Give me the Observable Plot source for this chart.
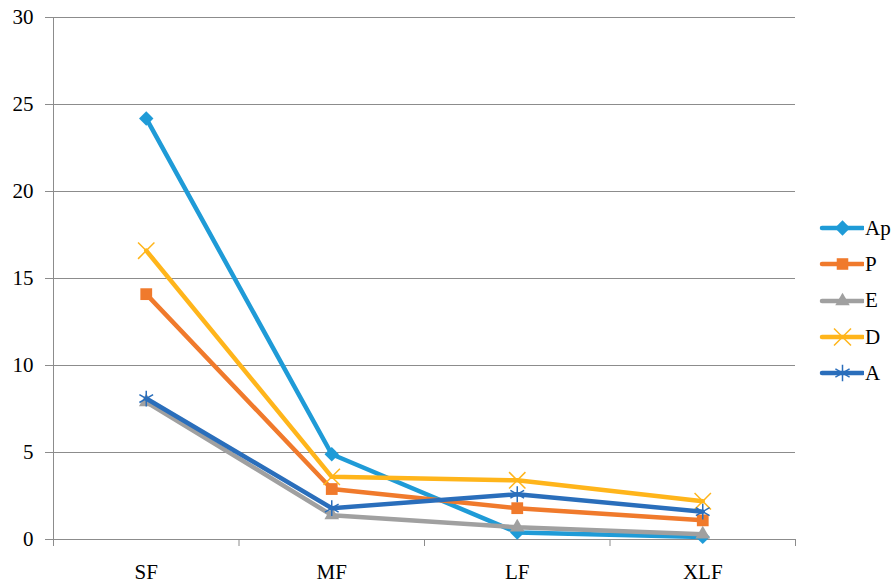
<!DOCTYPE html>
<html><head><meta charset="utf-8">
<script src="https://cdn.jsdelivr.net/npm/d3@7"></script>
<script src="https://cdn.jsdelivr.net/npm/@observablehq/plot@0.6"></script>
<style>
body{margin:0;background:#fff;font-family:"Liberation Serif",serif;}
#wrap{position:relative;width:895px;height:585px;}
#legend{position:absolute;left:818px;top:210px;}
.item{display:flex;align-items:center;height:36.3px;font-size:21px;color:#000;font-family:"Liberation Serif",serif;}
.item svg{margin-right:1px;}
</style></head><body>
<div id="wrap"><div id="chart"></div><div id="legend"></div></div>
<script>
const categories = ["SF","MF","LF","XLF"];
const seriesNames = ["Ap","P","E","D","A"];
const Ap = [24.2, 4.9, 0.4, 0.15];
const P  = [14.1, 2.9, 1.8, 1.1];
const E  = [7.9, 1.4, 0.7, 0.3];
const D  = [16.6, 3.6, 3.4, 2.2];
const A  = [8.1, 1.8, 2.6, 1.6];
const colors = ["#1f9bd7","#f07a2c","#a0a0a0","#ffb51b","#2a6ebb"];
const symbols = ["diamond2","square2","triangle2","times","asterisk"];
const yTicks = [0,5,10,15,20,25,30];

const values = [Ap,P,E,D,A];
const rows = [];
seriesNames.forEach((s,si)=>values[si].forEach((v,ci)=>rows.push({series:s, cat:categories[ci], x:ci+0.5, y:v})));
const drawOrder = ["Ap","P","E","D","A"];
const filled = new Set(["Ap","P","E"]);
const dotR = {Ap:6.5, P:7.5, E:7, D:7.5, A:7.5};

const marks = [
  Plot.gridY(yTicks,{stroke:"#8c8c8c",strokeOpacity:1,strokeWidth:1}),
  Plot.axisY({ticks:yTicks, tickSize:8, tickPadding:12, label:null}),
  Plot.ruleX([0],{stroke:"#8c8c8c"}),
  Plot.ruleY([0],{stroke:"#8c8c8c"}),
  Plot.axisX({ticks:[0,1,2,3,4], tickSize:7, tickFormat:()=>"", label:null}),
  Plot.axisX({ticks:categories.map((c,i)=>i+0.5), tickSize:0, tickPadding:25, tickFormat:(d)=>categories[Math.floor(d)], label:null})
];
drawOrder.forEach(s=>{
  const si = seriesNames.indexOf(s);
  const d = rows.filter(r=>r.series===s);
  marks.push(Plot.line(d,{x:"x",y:"y",stroke:colors[si],strokeWidth:4.5}));
  if (filled.has(s)) {
    marks.push(Plot.dot(d,{x:"x",y:"y",symbol:()=>symbols[si],fill:colors[si],stroke:"none",r:dotR[s]}));
  } else {
    marks.push(Plot.dot(d,{x:"x",y:"y",symbol:()=>symbols[si],stroke:colors[si],fill:"none",strokeWidth:1.5,r:dotR[s]}));
  }
});

const chart = Plot.plot({
  width:895, height:585,
  marginLeft:53, marginRight:100, marginTop:17, marginBottom:46,
  style:{fontFamily:'"Liberation Serif",serif', fontSize:"21px", background:"#fff", color:"#000"},
  x:{type:"linear", domain:[0,4], axis:null},
  y:{domain:[0,30], axis:null},
  marks
});
chart.querySelectorAll('g[aria-label$="tick"]').forEach(g=>g.setAttribute("stroke","#8c8c8c"));
document.getElementById("chart").appendChild(chart);

// legend
const leg = d3.select("#legend");
const legSize = {Ap:150, P:170, E:150, D:190, A:190};
seriesNames.forEach((s,si)=>{
  const item = leg.append("div").attr("class","item");
  const svg = item.append("svg").attr("width",46).attr("height",20);
  svg.append("line").attr("x1",4).attr("x2",45).attr("y1",10).attr("y2",10)
    .attr("stroke",colors[si]).attr("stroke-width",4.5).attr("stroke-linecap","round");
  const sym = d3.symbol().type({
    diamond2:d3.symbolDiamond2, square2:d3.symbolSquare2, triangle2:d3.symbolTriangle2,
    times:d3.symbolTimes, asterisk:d3.symbolAsterisk}[symbols[si]]).size(legSize[s]);
  const p = svg.append("path").attr("d",sym()).attr("transform","translate(24.5,10)");
  if (filled.has(s)) p.attr("fill",colors[si]);
  else p.attr("fill","none").attr("stroke",colors[si]).attr("stroke-width",1.5);
  item.append("span").text(s);
});
</script>
</body></html>
